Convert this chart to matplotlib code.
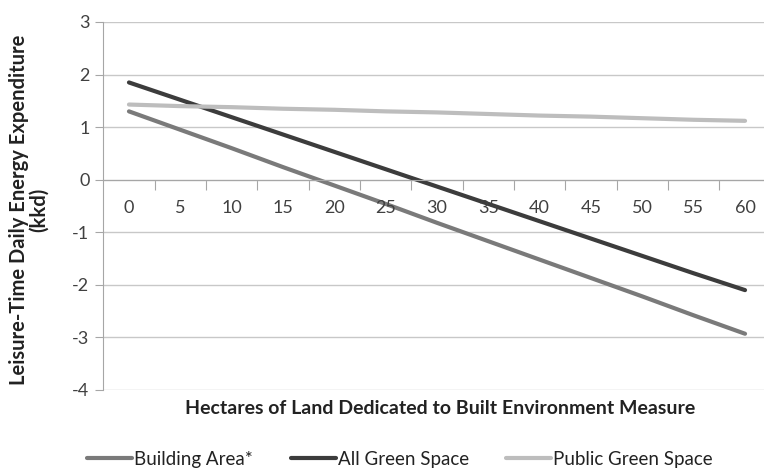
import matplotlib
matplotlib.use("Agg")
import matplotlib.pyplot as plt
import numpy as np

plt.rcParams['font.family'] = ['Lato', 'DejaVu Sans']
plt.rcParams['axes.unicode_minus'] = False

hectares = ["0", "5", "10", "15", "20", "25", "30", "35", "40", "45", "50", "55", "60"]
building_area = [1.30, 0.95, 0.60, 0.24, -0.11, -0.46, -0.82, -1.17, -1.52, -1.87, -2.22, -2.58, -2.93]
all_green = [1.85, 1.52, 1.19, 0.86, 0.53, 0.20, -0.13, -0.46, -0.79, -1.12, -1.45, -1.78, -2.10]
public_green = [1.43, 1.40, 1.38, 1.35, 1.33, 1.30, 1.28, 1.25, 1.22, 1.20, 1.17, 1.14, 1.12]

fig = plt.figure(figsize=(7.64, 4.70), dpi=100)
ax = fig.add_axes([103.3 / 764, 1 - 390 / 470, 667.4 / 764, 368 / 470])

x = np.arange(len(hectares))
ax.plot(x, building_area, color="#7a7a7a", lw=3, label="Building Area*", solid_capstyle="round")
ax.plot(x, all_green, color="#3c3c3c", lw=3, label="All Green Space", solid_capstyle="round")
ax.plot(x, public_green, color="#bdbdbd", lw=3, label="Public Green Space", solid_capstyle="round")

ax.set_xlim(-0.5, len(hectares) - 0.5)
ax.set_ylim(-4, 3)
ax.set_yticks(range(-4, 4))
ax.grid(axis="y", color="#c8c8c8", lw=1)
ax.set_axisbelow(True)

for s in ["top", "right"]:
    ax.spines[s].set_visible(False)
ax.spines["left"].set_color("#a6a6a6")
ax.spines["bottom"].set_color("#a6a6a6")
ax.spines["bottom"].set_position(("data", 0))

# category ticks sit between the categories, labels centred under each
ax.set_xticks(np.arange(0.5, len(hectares) - 0.5))
ax.set_xticklabels([])
ax.tick_params(axis="x", direction="out", length=7, color="#a6a6a6")
for i, lab in enumerate(hectares):
    ax.text(i, -0.53, lab, ha="center", va="center", fontsize=13, color="#404040")

ax.tick_params(axis="y", length=6, color="#a6a6a6", labelsize=13, labelcolor="#404040", pad=4)

fig.text(29 / 764, 1 - 210 / 470, "Leisure-Time Daily Energy Expenditure\n(kkd)", rotation=90,
         ha="center", va="center", fontsize=14.5, fontweight="bold", color="#222222", linespacing=1.0)
fig.text(440 / 764, 1 - 408 / 470, "Hectares of Land Dedicated to Built Environment Measure",
         ha="center", va="center", fontsize=14, fontweight="bold", color="#222222")

fig.legend(loc="center", bbox_to_anchor=(400 / 764, 1 - 459 / 470), ncol=3, frameon=False,
           fontsize=13.5, handlelength=2.4, handletextpad=0.1, columnspacing=2.0,
           labelcolor="#222222")

fig.savefig("out.png", dpi=100)
